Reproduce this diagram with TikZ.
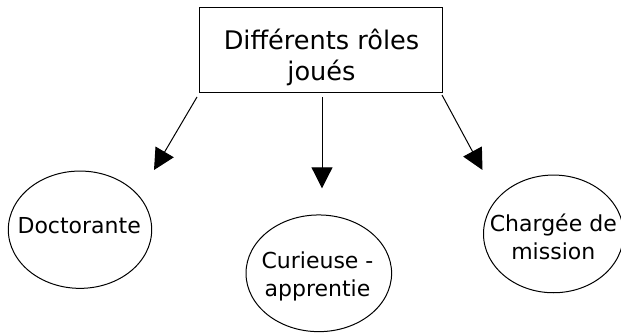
\documentclass[tikz,border=0pt]{standalone}
\usepackage{fontspec}
\setmainfont{DejaVu Sans}
\usetikzlibrary{arrows.meta,shapes.geometric}
\begin{document}
\begin{tikzpicture}[x=1pt,y=-1pt,
  role/.style={draw,ellipse,line width=1pt,inner sep=0pt},
  rolet/.style={align=center,font=\fontsize{22}{28.2}\selectfont,inner sep=0pt},
  arr/.style={line width=1pt,-{Triangle[length=21pt,width=21pt]}}]
\useasboundingbox[fill=white] (0,0) rectangle (621,334);
% top box
\node[draw,line width=1pt,minimum width=243pt,minimum height=84.7pt,inner sep=0pt] (top) at (320.5,49.7) {};
\node[align=center,font=\fontsize{25.6}{31}\selectfont,inner sep=0pt] (toptext) at (321.5,57.8) {Différents rôles\\joués};
% ellipses
\node[role,minimum width=143.4pt,minimum height=117.3pt] (doc) at (80,229.7) {};
\node[rolet] (doct) at (79.2,225.6) {Doctorante};
\node[role,minimum width=145.6pt,minimum height=116.7pt] (cur) at (318.8,273.3) {};
\node[rolet] (curt) at (317.5,276.4) {Curieuse -\\apprentie};
\node[role,minimum width=140pt,minimum height=117.7pt] (cha) at (553.5,233.9) {};
\node[rolet] (chat) at (553.3,236.6) {Chargée de\\mission};
% arrow ends
\coordinate (s1) at (197,97);
\coordinate (e1) at (154,170);
\coordinate (s2) at (322,97);
\coordinate (e2) at (322,188.3);
\coordinate (s3) at (442,95);
\coordinate (e3) at (482.5,170);
\draw[arr] (s1) -- (e1);
\draw[arr] (s2) -- (e2);
\draw[arr] (s3) -- (e3);
\end{tikzpicture}
\end{document}
